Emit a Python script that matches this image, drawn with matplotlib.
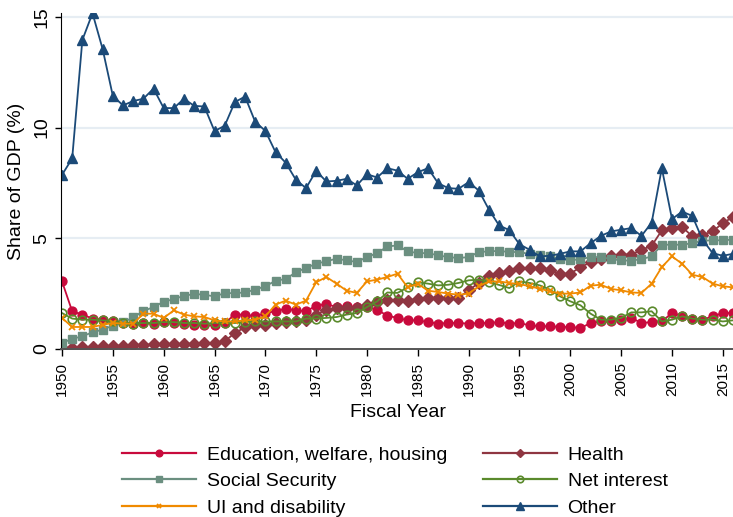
import matplotlib
matplotlib.use("Agg")
import matplotlib.pyplot as plt
from matplotlib.lines import Line2D

plt.rcParams['font.family'] = ['Liberation Sans', 'DejaVu Sans']

years = list(range(1950, 2017))

education = [3.04, 1.69, 1.54, 1.36, 1.31, 1.23, 1.16, 1.13, 1.16, 1.13,
             1.20, 1.16, 1.13, 1.08, 1.05, 1.05, 1.16, 1.54, 1.54, 1.46,
             1.61, 1.69, 1.81, 1.73, 1.69, 1.94, 2.02, 1.88, 1.94, 1.88,
             1.88, 1.76, 1.49, 1.39, 1.28, 1.28, 1.20, 1.13, 1.16, 1.16,
             1.13, 1.16, 1.16, 1.20, 1.13, 1.16, 1.05, 1.01, 1.01, 0.98,
             0.98, 0.93, 1.16, 1.23, 1.23, 1.31, 1.39, 1.16, 1.20, 1.23,
             1.61, 1.49, 1.34, 1.31, 1.46, 1.61, 1.61]

health = [0.03, 0.05, 0.07, 0.09, 0.11, 0.13, 0.14, 0.16, 0.17, 0.19,
          0.20, 0.21, 0.22, 0.23, 0.25, 0.26, 0.33, 0.71, 0.96, 1.05,
          1.08, 1.16, 1.20, 1.23, 1.31, 1.54, 1.76, 1.84, 1.84, 1.84,
          1.99, 2.09, 2.21, 2.18, 2.17, 2.26, 2.29, 2.29, 2.29, 2.29,
          2.64, 2.97, 3.30, 3.40, 3.49, 3.65, 3.65, 3.65, 3.54, 3.39,
          3.39, 3.69, 3.90, 4.05, 4.17, 4.25, 4.25, 4.47, 4.65, 5.35,
          5.45, 5.50, 5.08, 5.15, 5.30, 5.68, 5.95]

social_security = [0.26, 0.44, 0.56, 0.74, 0.86, 1.04, 1.19, 1.41, 1.70, 1.88,
                   2.12, 2.24, 2.39, 2.47, 2.44, 2.36, 2.51, 2.51, 2.54, 2.67,
                   2.82, 3.07, 3.15, 3.45, 3.65, 3.84, 3.95, 4.07, 3.99, 3.92,
                   4.14, 4.32, 4.62, 4.67, 4.40, 4.32, 4.32, 4.22, 4.14, 4.10,
                   4.14, 4.37, 4.40, 4.42, 4.37, 4.37, 4.28, 4.22, 4.17, 4.05,
                   3.99, 4.05, 4.14, 4.14, 4.05, 3.99, 3.98, 4.05, 4.17, 4.70,
                   4.70, 4.70, 4.77, 4.88, 4.90, 4.90, 4.93]

net_interest = [1.61, 1.36, 1.31, 1.31, 1.28, 1.23, 1.16, 1.13, 1.16, 1.16,
                1.20, 1.20, 1.16, 1.16, 1.13, 1.16, 1.16, 1.16, 1.20, 1.23,
                1.23, 1.23, 1.23, 1.23, 1.36, 1.36, 1.39, 1.43, 1.54, 1.61,
                1.88, 2.14, 2.54, 2.52, 2.77, 3.00, 2.94, 2.86, 2.89, 2.97,
                3.09, 3.12, 3.00, 2.88, 2.74, 3.04, 2.97, 2.86, 2.67, 2.36,
                2.14, 1.96, 1.58, 1.31, 1.31, 1.39, 1.64, 1.64, 1.69, 1.23,
                1.31, 1.46, 1.36, 1.31, 1.31, 1.23, 1.28]

ui_disability = [1.39, 0.98, 0.98, 0.98, 1.08, 1.16, 1.13, 1.13, 1.58, 1.58,
                 1.39, 1.73, 1.54, 1.46, 1.43, 1.28, 1.23, 1.23, 1.28, 1.31,
                 1.46, 1.99, 2.17, 1.99, 2.17, 3.00, 3.24, 2.94, 2.62, 2.52,
                 3.04, 3.12, 3.24, 3.39, 2.77, 2.94, 2.62, 2.56, 2.49, 2.44,
                 2.49, 2.82, 3.04, 3.04, 2.97, 2.92, 2.82, 2.71, 2.59, 2.49,
                 2.49, 2.54, 2.85, 2.89, 2.70, 2.64, 2.54, 2.52, 2.94, 3.69,
                 4.17, 3.84, 3.34, 3.24, 2.94, 2.82, 2.77]

other = [7.86, 8.60, 13.96, 15.17, 13.54, 11.43, 11.00, 11.20, 11.30, 11.76,
         10.88, 10.88, 11.30, 10.98, 10.95, 9.84, 10.08, 11.15, 11.40, 10.26,
         9.85, 8.89, 8.41, 7.64, 7.26, 8.04, 7.56, 7.59, 7.68, 7.38,
         7.89, 7.74, 8.16, 8.05, 7.68, 7.98, 8.16, 7.48, 7.26, 7.23,
         7.53, 7.15, 6.28, 5.57, 5.36, 4.72, 4.47, 4.17, 4.20, 4.29,
         4.40, 4.40, 4.77, 5.10, 5.30, 5.38, 5.45, 5.10, 5.70, 8.16,
         5.86, 6.20, 6.00, 4.93, 4.32, 4.20, 4.29]

labels = ["Education, welfare, housing", "Health", "Social Security",
          "Net interest", "UI and disability", "Other"]
xticks = list(range(1950, 2016, 5))
yticks = [0, 5, 10, 15]

W, H = 733, 517
fig = plt.figure(figsize=(W / 100, H / 100), dpi=100)
left, right, top, bottom = 61, 734, 13, 349.3
ax = fig.add_axes([left / W, 1 - bottom / H, (right - left) / W, (bottom - top) / H])

c_edu = '#c80a3c'
c_health = '#8f3641'
c_ss = '#6b8f80'
c_ni = '#5a8a2c'
c_ui = '#f08a00'
c_oth = '#1b4a78'

lw = 1.3
h_edu, = ax.plot(years, education, color=c_edu, lw=lw, marker='o', ms=6.4, mec=c_edu, mfc=c_edu)
h_health, = ax.plot(years, health, color=c_health, lw=lw, marker='D', ms=6.0, mec=c_health, mfc=c_health)
h_ss, = ax.plot(years, social_security, color=c_ss, lw=lw, marker='s', ms=6.2, mec=c_ss, mfc=c_ss)
h_ni, = ax.plot(years, net_interest, color=c_ni, lw=lw, marker='o', ms=6.2, mec=c_ni, mfc='none', mew=1.2)
h_ui, = ax.plot(years, ui_disability, color=c_ui, lw=lw, marker='x', ms=4.0, mec=c_ui, mew=1.3)
h_oth, = ax.plot(years, other, color=c_oth, lw=lw, marker='^', ms=7.4, mec=c_oth, mfc=c_oth)

ax.set_xlim(1949.9, 2016.1)
ax.set_ylim(-0.03, 15.18)
ax.set_xticks(xticks)
ax.set_yticks(yticks)
ax.set_xticklabels([str(x) for x in xticks], rotation=90, fontsize=11)
ax.set_yticklabels([str(y) for y in yticks], rotation=90, va='center', fontsize=14)
ax.tick_params(axis='y', length=4.5, width=1, pad=3)
ax.tick_params(axis='x', length=5, width=1, pad=4)

for y in [5, 10, 15]:
    ax.axhline(y, color='#e6edf3', lw=1.6, zorder=0)

ax.spines['top'].set_visible(False)
ax.spines['right'].set_visible(False)
ax.spines['left'].set_color('#000000')
ax.spines['bottom'].set_color('#555555')
ax.spines['bottom'].set_linewidth(1.4)

ax.set_ylabel("Share of GDP (%)", fontsize=14, labelpad=6)
ax.set_xlabel("Fiscal Year", fontsize=14, labelpad=6)

handles = [h_edu, h_ss, h_ui, h_health, h_ni, h_oth]
leg_labels = [labels[0], labels[2], labels[4], labels[1], labels[3], labels[5]]
leg_handles = []
for h in handles:
    leg_handles.append(Line2D([], [], color=h.get_color(), lw=1.6, marker=h.get_marker(),
                              ms=h.get_markersize() * 0.75, mec=h.get_markeredgecolor(),
                              mfc=h.get_markerfacecolor(), mew=h.get_markeredgewidth()))
fig.legend(leg_handles, leg_labels, ncol=2, loc='upper left',
           bbox_to_anchor=(122 / W, 1 - 446 / H), frameon=False, fontsize=14,
           handlelength=3.8, handletextpad=0.55, columnspacing=1.85,
           labelspacing=0.46, borderpad=0, borderaxespad=0)

fig.savefig("out.png", dpi=100)
